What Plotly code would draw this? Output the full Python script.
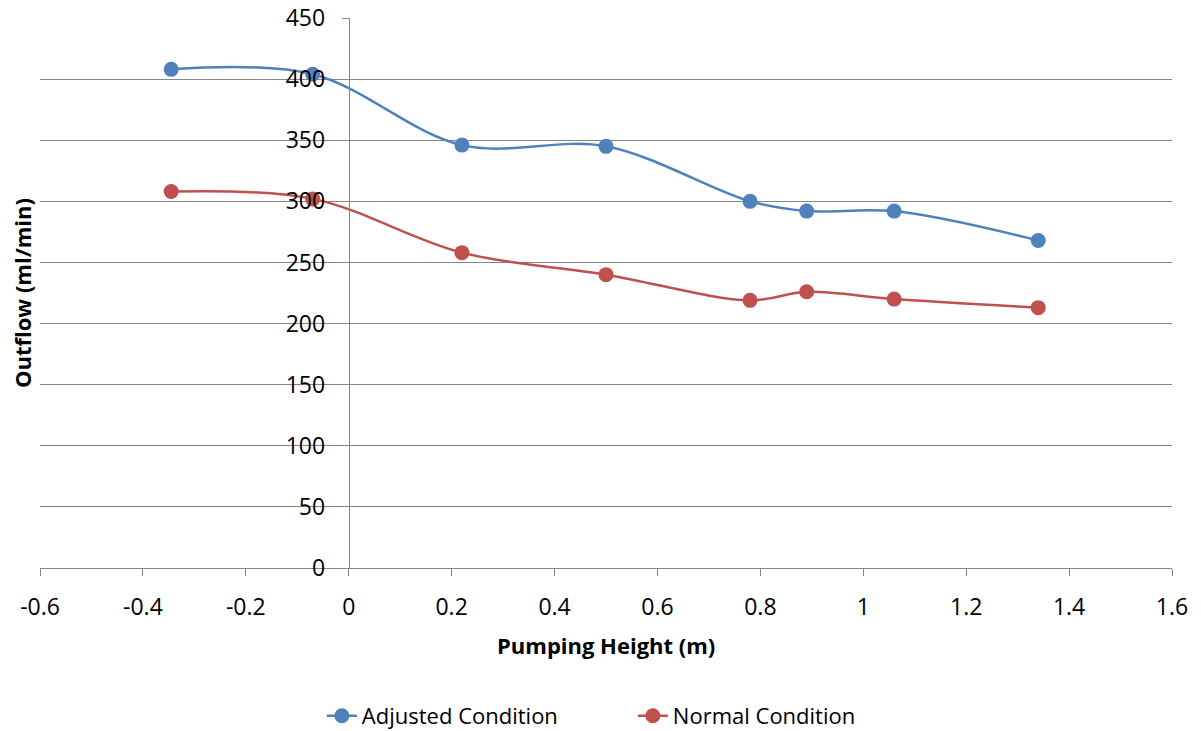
import plotly.graph_objects as go

# Pumping height (m) and measured outflow (ml/min)
pumping_height = [-0.345, -0.07, 0.22, 0.50, 0.78, 0.89, 1.06, 1.34]
adjusted_outflow = [408, 404, 346, 345, 300, 292, 292, 268]
normal_outflow = [308, 302, 258, 240, 219, 226, 220, 213]

x_ticks = [-0.6, -0.4, -0.2, 0, 0.2, 0.4, 0.6, 0.8, 1, 1.2, 1.4, 1.6]
y_ticks = [0, 50, 100, 150, 200, 250, 300, 350, 400, 450]

FONT = "Open Sans"
GRID = "#868686"

fig = go.Figure()
fig.add_trace(go.Scatter(
    x=pumping_height, y=adjusted_outflow, name="Adjusted Condition",
    mode="lines+markers", line=dict(color="#4F81BD", width=2.5, shape="spline", smoothing=1),
    marker=dict(size=15, color="#4F81BD"),
))
fig.add_trace(go.Scatter(
    x=pumping_height, y=normal_outflow, name="Normal Condition",
    mode="lines+markers", line=dict(color="#C0504D", width=2.5, shape="spline", smoothing=1),
    marker=dict(size=15, color="#C0504D"),
))

fig.update_layout(
    width=1201, height=731,
    margin=dict(l=40, r=29, t=18, b=163, autoexpand=False),
    plot_bgcolor="white", paper_bgcolor="white",
    font=dict(family=FONT, size=23, color="black"),
    showlegend=True,
    legend=dict(orientation="h", x=0.249, xanchor="left", y=-0.269, yanchor="middle",
                font=dict(size=22), entrywidth=266, entrywidthmode="pixels",
                traceorder="normal"),
    xaxis=dict(
        range=[-0.6, 1.6], tickvals=x_ticks, ticktext=[f"{v:g}" for v in x_ticks],
        showgrid=False, zeroline=False, showline=True, linecolor=GRID, linewidth=1,
        ticks="outside", ticklen=7, tickcolor=GRID, ticklabelstandoff=11,
        tickfont=dict(size=23),
    ),
    yaxis=dict(
        range=[0, 450], tickvals=y_ticks, showgrid=True, gridcolor=GRID, gridwidth=1,
        zeroline=False, showline=True, linecolor=GRID, linewidth=1,
        ticks="outside", ticklen=7, tickcolor=GRID, ticklabelstandoff=12,
        tickfont=dict(size=23),
        anchor="free", position=0.6 / 2.2,
    ),
    annotations=[
        dict(text="<b>Pumping Height (m)</b>", x=0.5, y=-0.14, xref="paper", yref="paper",
             xanchor="center", yanchor="middle", showarrow=False, font=dict(size=22)),
        dict(text="<b>Outflow (ml/min)</b>", x=-0.0159, y=0.5, xref="paper", yref="paper",
             xanchor="center", yanchor="middle", textangle=-90, showarrow=False,
             font=dict(size=22)),
    ],
)

fig.write_html("out.html")
